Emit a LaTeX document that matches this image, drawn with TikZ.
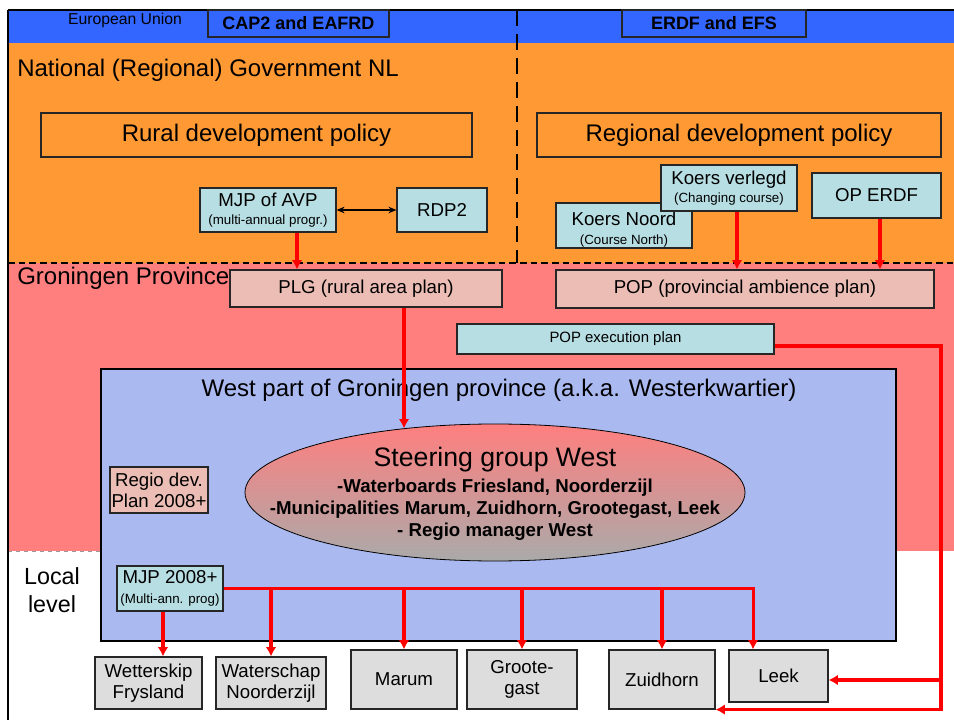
\documentclass[tikz,border=0pt]{standalone}
\usepackage{fontspec}
\setmainfont{Liberation Sans}
\usetikzlibrary{arrows.meta,shapes.geometric,calc}
\definecolor{eublue}{HTML}{3366FF}
\definecolor{natorange}{HTML}{FF9933}
\definecolor{provpink}{HTML}{FF7F7F}
\definecolor{boxpink}{HTML}{EBBDB4}
\definecolor{boxcyan}{HTML}{B7DEE3}
\definecolor{westblue}{HTML}{ABB9F1}
\definecolor{boxgrey}{HTML}{DDDDDD}
\definecolor{sggrey}{HTML}{AAAAAA}
\newcommand\fsz[2]{\fontsize{#1}{#2}\selectfont}
\begin{document}
\begin{tikzpicture}[x=0.75pt,y=-0.75pt,
  bx/.style={draw=black!85, line width=0.9pt, inner sep=1pt, align=center, font=\fsz{14pt}{16pt}},
  sz/.style 2 args={minimum width=#1*0.75pt, minimum height=#2*0.75pt},
  lbl/.style={inner sep=0pt, align=center},
  redarr/.style={draw=red, line width=2.3pt, -{Latex[length=7pt,width=8pt]}},
  redln/.style={draw=red, line width=2.3pt}]
\useasboundingbox (0,0) rectangle (954,720);
\fill[white] (0,0) rectangle (954,720);
% bands
\fill[eublue] (8,10) rectangle (954,43);
\fill[natorange] (8,43) rectangle (954,263);
\fill[provpink] (8,263) rectangle (954,551);
\draw[black!40, dashed, line width=0.6pt] (8,551) -- (101,551);
\draw[black, line width=1.5pt] (8,10) -- (954,10);
\draw[black, line width=1.5pt] (8,10) -- (8,720);
\draw[black, line width=1.3pt, dash pattern=on 5pt off 3pt] (8,263) -- (954,263);
\draw[black, line width=1.8pt, dash pattern=on 12pt off 6pt] (517,10) -- (517,263);
% EU band
\node[lbl, font=\fsz{11.8pt}{13pt}] (eu) at (125,20) {European Union};
\node[bx, fill=eublue, sz={181}{27}, font=\fsz{13.5pt}{15pt}\bfseries] (cap) at (298.5,23.5) {CAP2 and EAFRD};
\node[bx, fill=eublue, sz={184}{27}, font=\fsz{13.5pt}{15pt}\bfseries] (erdf) at (714,23.5) {ERDF and EFS};
% national
\node[lbl, anchor=west, font=\fsz{18pt}{20pt}] (nat) at (17,70) {National (Regional) Government NL};
\node[bx, fill=natorange, sz={431}{44}, font=\fsz{18pt}{20pt}] (rural) at (256.5,135) {Rural development policy};
\node[bx, fill=natorange, sz={404}{44}, font=\fsz{18pt}{20pt}] (regional) at (739,135) {Regional development policy};
\node[bx, fill=boxcyan, sz={136}{44}] (mjp) at (268,210) {MJP of AVP\\[-2pt]{\fsz{10pt}{11pt}(multi-annual progr.)}};
\node[bx, fill=boxcyan, sz={90}{44}] (rdp2) at (442,210) {RDP2};
\node[bx, fill=boxcyan, sz={136}{45}] (knoord) at (624,225.5) {};
\node[lbl, font=\fsz{14pt}{16pt}] (knoordt) at (624,229.5) {Koers Noord\\[-2pt]{\fsz{10pt}{11pt}(Course North)}};
\node[bx, fill=boxcyan, sz={136}{46}] (kverl) at (729,188) {Koers verlegd\\[-2pt]{\fsz{10pt}{11pt}(Changing course)}};
\node[bx, fill=boxcyan, sz={129}{45}] (operdf) at (876.5,195.5) {OP ERDF};
% province
\node[lbl, anchor=west, font=\fsz{18pt}{20pt}] (gron) at (17,278) {Groningen Province};
\node[bx, fill=boxpink, sz={272}{37}] (plg) at (366,288.5) {PLG (rural area plan)};
\node[bx, fill=boxpink, sz={378}{38}] (pop) at (745,289) {POP (provincial ambience plan)};
\node[bx, fill=boxcyan, sz={317}{30}, font=\fsz{11.2pt}{13pt}] (popexec) at (615.5,339) {POP execution plan};
% local
\node[lbl, font=\fsz{17.5pt}{20.5pt}] (local) at (52,590) {Local\\level};
% west box
\node[draw=black, line width=1.8pt, fill=westblue, sz={795}{272}, inner sep=0pt] (west) at (498.5,505) {};
\node[lbl, font=\fsz{18pt}{20pt}] (westt) at (499,390) {West part of Groningen province (a.k.a. Westerkwartier)};
\node[ellipse, draw=black, line width=0.6pt, top color=provpink, bottom color=sggrey, sz={500}{137}, inner sep=0pt] (sg) at (495,492.5) {};
\node[lbl, font=\fsz{20pt}{22pt}] (sg1) at (495,459.5) {Steering group West};
\node[lbl, font=\fsz{14pt}{16pt}\bfseries] (sg2) at (495,487.5) {-Waterboards Friesland, Noorderzijl};
\node[lbl, font=\fsz{14pt}{16pt}\bfseries] (sg3) at (495,509.5) {-Municipalities Marum, Zuidhorn, Grootegast, Leek};
\node[lbl, font=\fsz{14pt}{16pt}\bfseries] (sg4) at (495,532) {- Regio manager West};
\node[bx, fill=boxpink, sz={98}{46}] (regio) at (159,490) {Regio dev.\\Plan 2008+};
\node[bx, fill=boxcyan, sz={106}{45}] (mjp08) at (170,588.5) {MJP 2008+\\[-1pt]{\fsz{10pt}{11pt}(Multi-ann. prog)}};
% bottom boxes
\node[bx, fill=boxgrey, sz={107}{52}] (wett) at (148.5,683) {Wetterskip\\Frysland};
\node[bx, fill=boxgrey, sz={110}{52}] (wat) at (271,683) {Waterschap\\Noorderzijl};
\node[bx, fill=boxgrey, sz={106}{59}] (marum) at (404,679.5) {Marum};
\node[bx, fill=boxgrey, sz={110}{59}] (groot) at (522,679.5) {Groote-\\gast};
\node[bx, fill=boxgrey, sz={106}{59}] (zuid) at (662,679.5) {Zuidhorn};
\node[bx, fill=boxgrey, sz={99}{52}] (leek) at (778.5,676) {Leek};
% connectors
\draw[{Stealth[length=6pt,width=5pt]}-{Stealth[length=6pt,width=5pt]}, line width=1.3pt] (mjp.east) -- (rdp2.west);
\coordinate (m0) at ([xshift=21.75pt]mjp.south);
\draw[redarr] (m0) -- (m0 |- plg.north);
\coordinate (kv0) at ([xshift=6pt]kverl.south);
\draw[redarr] (kv0) -- (kv0 |- pop.north);
\coordinate (op0) at ([xshift=2.6pt]operdf.south);
\draw[redarr] (op0) -- (op0 |- pop.north);
\coordinate (p0) at ([xshift=28.5pt]plg.south);
\draw[redarr] (p0) -- (p0 |- sg.145);
\coordinate (t0) at ([xshift=-19.1pt]leek.north);
\draw[redarr] (mjp08.east) -| (t0);
\draw[redarr] (mjp08.east -| wat.north) -- (wat.north);
\draw[redarr] (mjp08.east -| marum.north) -- (marum.north);
\draw[redarr] (mjp08.east -| groot.north) -- (groot.north);
\draw[redarr] (mjp08.east -| zuid.north) -- (zuid.north);
\coordinate (w0) at ([xshift=-5.25pt]mjp08.south);
\draw[redarr] (w0) -- (w0 |- wett.north);
\coordinate (pe0) at ([yshift=-5.25pt]popexec.east);
\coordinate (rtop) at (941,0);
\draw[redarr] (pe0) -| (rtop |- zuid.south) -- (zuid.south east);
\coordinate (leekin) at ([yshift=-3pt]leek.east);
\draw[redarr] (rtop |- leekin) -- (leekin);
\end{tikzpicture}
\end{document}
